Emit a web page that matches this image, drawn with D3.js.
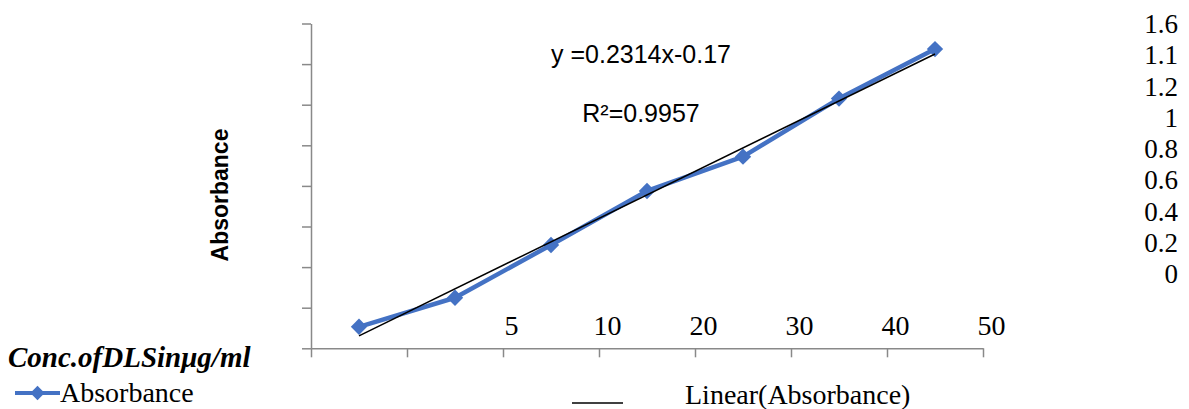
<!DOCTYPE html>
<html>
<head>
<meta charset="utf-8">
<script src="https://cdn.jsdelivr.net/npm/d3@7"></script>
<style>
  html, body { margin: 0; padding: 0; background: #fff; }
  svg { display: block; }
</style>
</head>
<body>
<svg id="chart" width="1189" height="409"></svg>
<script>
// ---- data ----
const categories = [1, 2, 3, 4, 5, 6, 7];
const absorbance = [0.106, 0.249, 0.509, 0.775, 0.944, 1.23, 1.474];
const xTickLabels = ["5", "10", "20", "30", "40", "50"];
const yTickValues = [0, 0.2, 0.4, 0.6, 0.8, 1.0, 1.2, 1.4, 1.6];
const yTickLabels = ["1.6", "1.1", "1.2", "1", "0.8", "0.6", "0.4", "0.2", "0"];
const trendSlope = [0.2314];
const trendIntercept = [-0.17];
const equationText = ["y =0.2314x-0.17", "R²=0.9957"];
const seriesName = ["Absorbance"];
const trendName = ["Linear(Absorbance)"];
const xTitle = ["Conc.ofDLSinμg/ml"];
const yTitle = ["Absorbance"];

const svg = d3.select("#chart");
const blue = "#4472C4";
const axisGrey = "#898989";
const serif = "'Liberation Serif', 'Times New Roman', serif";
const sans = "'Liberation Sans', Arial, sans-serif";

// ---- scales ----
const xIdx = d3.scaleLinear().domain([0, categories.length]).range([311, 983]);
const y = d3.scaleLinear().domain([0, 1.6]).range([348.3, 23.5]);
const xc = c => xIdx(categories.indexOf(c) + 0.5);

// ---- axes ----
const yAxis = svg.append("g")
  .attr("transform", `translate(${xIdx(0)},0)`)
  .call(d3.axisLeft(y).tickValues(yTickValues).tickFormat("").tickSize(9).tickSizeOuter(0));
const xAxis = svg.append("g")
  .attr("transform", `translate(0,${y(0)})`)
  .call(d3.axisBottom(xIdx).tickValues(d3.range(0, categories.length + 1)).tickFormat("").tickSize(9).tickSizeOuter(0));
[yAxis, xAxis].forEach(g => {
  g.selectAll("path,line").attr("stroke", axisGrey).attr("stroke-width", 1.5);
});

// ---- x tick labels (shifted, as in reference) ----
svg.append("g").selectAll("text")
  .data(xTickLabels)
  .join("text")
  .attr("x", (d, i) => xIdx(i + 2) + 8.5)
  .attr("y", 335)
  .attr("text-anchor", "middle")
  .attr("font-family", serif)
  .attr("font-size", 28)
  .attr("fill", "#000")
  .text(d => d);

// ---- right-hand y tick label column ----
const yLab = d3.scalePoint().domain(d3.range(yTickLabels.length)).range([33, 283]);
svg.append("g").selectAll("text")
  .data(yTickLabels)
  .join("text")
  .attr("x", 1178)
  .attr("y", (d, i) => yLab(i))
  .attr("text-anchor", "end")
  .attr("font-family", serif)
  .attr("font-size", 27)
  .attr("fill", "#000")
  .text(d => d);

// ---- series line ----
const line = d3.line().x((d, i) => xc(categories[i])).y(d => y(d));
svg.append("path")
  .datum(absorbance)
  .attr("d", line)
  .attr("fill", "none")
  .attr("stroke", blue)
  .attr("stroke-width", 4.5)
  .attr("stroke-linejoin", "round");

// ---- markers ----
const diamond = d3.symbol().type(d3.symbolDiamond2 || d3.symbolSquare).size(170);
svg.append("g").selectAll("path")
  .data(absorbance)
  .join("path")
  .attr("transform", (d, i) => `translate(${xc(categories[i])},${y(d)}) rotate(${d3.symbolDiamond2 ? 0 : 45})`)
  .attr("d", diamond)
  .attr("fill", blue);

// ---- trendline ----
const ends = [categories[0], categories[categories.length - 1]];
svg.append("line")
  .attr("x1", xc(ends[0])).attr("y1", y(trendSlope[0] * ends[0] + trendIntercept[0]))
  .attr("x2", xc(ends[1])).attr("y2", y(trendSlope[0] * ends[1] + trendIntercept[0]))
  .attr("stroke", "#000")
  .attr("stroke-width", 1.5);

// ---- equation ----
svg.append("g").selectAll("text")
  .data(equationText)
  .join("text")
  .attr("x", 641)
  .attr("y", (d, i) => 63 + i * 59)
  .attr("text-anchor", "middle")
  .attr("font-family", sans)
  .attr("font-size", 25)
  .attr("fill", "#000")
  .text(d => d);

// ---- y title ----
svg.append("text")
  .attr("transform", "translate(228,195) rotate(-90)")
  .attr("text-anchor", "middle")
  .attr("font-family", sans)
  .attr("font-weight", "bold")
  .attr("font-size", 23)
  .attr("fill", "#000")
  .text(yTitle[0]);

// ---- x title ----
svg.append("text")
  .attr("x", 8)
  .attr("y", 367)
  .attr("font-family", serif)
  .attr("font-weight", "bold")
  .attr("font-style", "italic")
  .attr("font-size", 29)
  .attr("fill", "#000")
  .text(xTitle[0]);

// ---- legend ----
const lg = svg.append("g");
lg.append("line").attr("x1", 15).attr("x2", 60).attr("y1", 393).attr("y2", 393)
  .attr("stroke", blue).attr("stroke-width", 4);
lg.append("path").attr("transform", `translate(37.5,393) rotate(${d3.symbolDiamond2 ? 0 : 45})`)
  .attr("d", d3.symbol().type(d3.symbolDiamond2 || d3.symbolSquare).size(130)).attr("fill", blue);
lg.append("text").attr("x", 60).attr("y", 402)
  .attr("font-family", serif).attr("font-size", 28).attr("fill", "#000").text(seriesName[0]);
lg.append("line").attr("x1", 572).attr("x2", 623).attr("y1", 403).attr("y2", 403)
  .attr("stroke", "#000").attr("stroke-width", 1.5);
lg.append("text").attr("x", 685).attr("y", 404)
  .attr("font-family", serif).attr("font-size", 28).attr("fill", "#000").text(trendName[0]);
</script>
</body>
</html>
